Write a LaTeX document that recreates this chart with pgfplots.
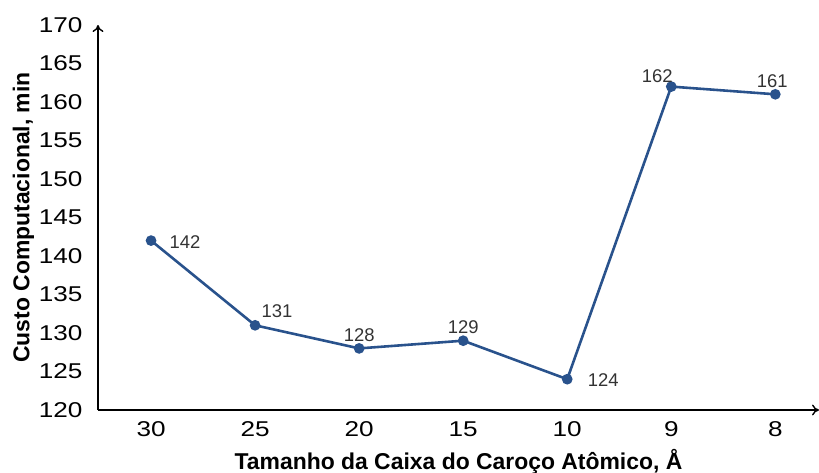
\documentclass[border=0pt]{standalone}
\usepackage{pgfplots}
\pgfplotsset{compat=1.18}
\usepackage{fontspec}
\setmainfont{Liberation Sans}
\newfontfamily\tickfont{Liberation Sans}[FakeStretch=1.22]
\usetikzlibrary{arrows.meta}
\definecolor{serie}{RGB}{41,82,140}
\begin{document}
\begin{tikzpicture}
\begin{axis}[
  scale only axis,
  width=721bp, height=385bp,
  xmin=-0.51, xmax=6.42,
  ymin=120, ymax=170,
  ytick={120,125,...,170},
  xtick={0,...,6},
  xticklabels={30,25,20,15,10,9,8},
  axis lines*=left,
  axis line style={line width=1.6pt, -{To[length=7pt,width=11pt,line width=1.4pt]}},
  major tick length=0pt,
  tick style={draw=none},
  /pgf/number format/assume math mode=true,
  ticklabel style={font=\tickfont\fontsize{21.5}{24}\selectfont},
  yticklabel style={xshift=-12bp},
  xticklabel style={yshift=-8bp},
  xlabel={\textbf{Tamanho da Caixa do Caroço Atômico, Å}},
  ylabel={\textbf{Custo Computacional, min}},
  label style={font=\fontsize{23}{26}\selectfont},
  xlabel style={yshift=-6bp},
  ylabel style={yshift=-2bp},
  clip=false,
]
\addplot[serie, line width=2.6pt, mark=*, mark size=4pt,
  nodes near coords,
  every node near coord/.style={font=\fontsize{18.5}{21}\selectfont, text=black!80},
  coordinate style/.condition={x==0}{anchor=west, xshift=14bp, yshift=-1bp},
  coordinate style/.condition={x==1}{anchor=south west, xshift=2bp, yshift=3bp},
  coordinate style/.condition={x==2}{anchor=south, yshift=2bp},
  coordinate style/.condition={x==3}{anchor=south, yshift=2bp},
  coordinate style/.condition={x==4}{anchor=west, xshift=16bp, yshift=-1bp},
  coordinate style/.condition={x==5}{anchor=south, xshift=-14bp, yshift=-1bp},
  coordinate style/.condition={x==6}{anchor=south, xshift=-3bp, yshift=2bp},
] coordinates {
  (0,142) (1,131) (2,128) (3,129) (4,124) (5,162) (6,161)
};
\coordinate (O) at (rel axis cs:0,0);
\end{axis}
\pgfresetboundingbox
\path (O) ++(-98bp,-63bp) rectangle ++(819bp,473bp);
\end{tikzpicture}
\end{document}
